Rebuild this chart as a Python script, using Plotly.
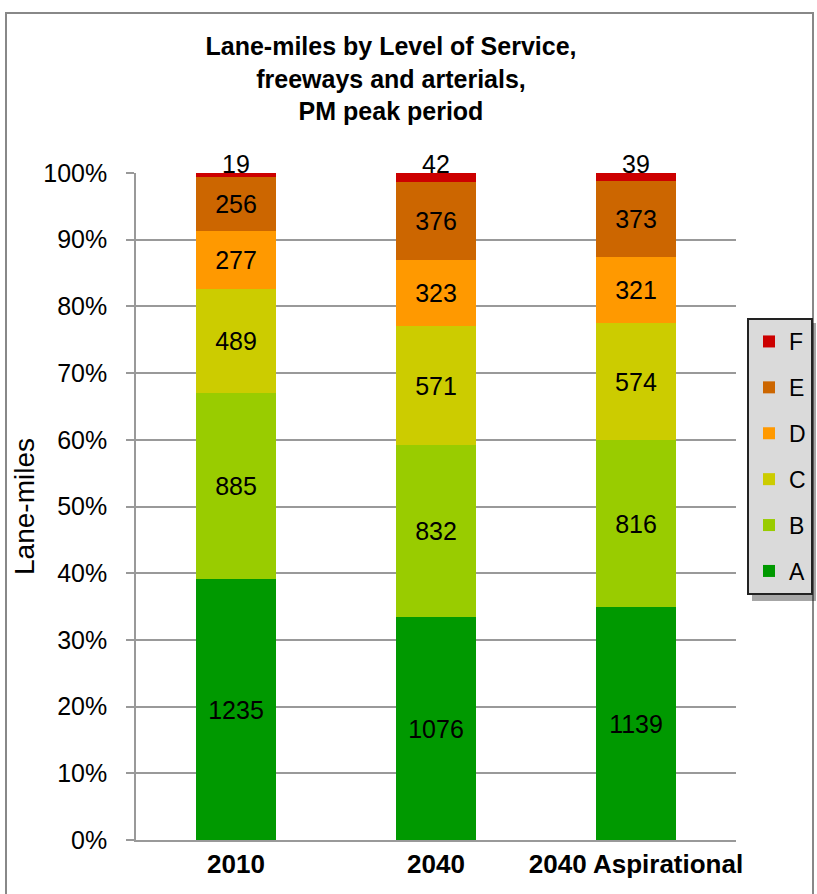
import plotly.graph_objects as go

categories = ["2010", "2040", "2040 Aspirational"]
levels = ["A", "B", "C", "D", "E", "F"]
values = {
    "A": [1235, 1076, 1139],
    "B": [885, 832, 816],
    "C": [489, 571, 574],
    "D": [277, 323, 321],
    "E": [256, 376, 373],
    "F": [19, 42, 39],
}
colors = {
    "A": "#009900",
    "B": "#99CC00",
    "C": "#CCCC00",
    "D": "#FF9900",
    "E": "#CC6600",
    "F": "#CC0000",
}

FONT = "Liberation Sans, Arial, sans-serif"

fig = go.Figure()
for i, lv in enumerate(levels):
    fig.add_trace(go.Bar(
        x=categories, y=values[lv], name=lv,
        marker=dict(color=colors[lv], line=dict(width=0)),
        text=None if lv == "F" else [str(v) for v in values[lv]],
        textposition="inside",
        insidetextanchor="middle",
        textangle=0,
        textfont=dict(family=FONT, size=25, color="black"),
        legendgroup=lv,
        legendrank=len(levels) - i,
        hoverinfo="x+y+name",
    ))

# labels for the top (F) segment, sitting just above the top of each stack
# (x given as the category index, since the category names look numeric)
for j, cat in enumerate(categories):
    total = sum(values[lv][j] for lv in levels)
    fig.add_annotation(
        x=j, y=100 * total / total, xref="x", yref="y",
        text=str(values["F"][j]), showarrow=False,
        yanchor="bottom", yshift=-7,
        font=dict(family=FONT, size=25, color="black"),
    )

W, H = 817, 894
L, R, T, B = 136, 81, 173, 54
pw, ph = W - L - R, H - T - B

def px(x):
    return (x - L) / pw

def py(y):
    return (H - B - y) / ph

fig.update_layout(
    width=W, height=H,
    margin=dict(l=L, r=R, t=T, b=B, autoexpand=False),
    barmode="stack", barnorm="percent", bargap=0.6,
    paper_bgcolor="white", plot_bgcolor="white",
    font=dict(family=FONT, size=25, color="black"),
    title=dict(
        text="<b>Lane-miles by Level of Service,<br>freeways and arterials,<br>PM peak period</b>",
        x=391 / W, xanchor="center", y=1 - 55 / H, yanchor="top",
        font=dict(family=FONT, size=25, color="black"),
    ),
    uniformtext=dict(minsize=10, mode="show"),
    legend=dict(
        x=px(747), xanchor="left", y=py(318), yanchor="top",
        traceorder="grouped", tracegroupgap=13,
        bgcolor="#dadada", bordercolor="#222222", borderwidth=2,
        font=dict(family=FONT, size=23, color="black"),
        itemwidth=30,
    ),
    showlegend=True,
)

fig.update_yaxes(
    range=[0, 100], dtick=10, ticksuffix="%",
    showgrid=True, gridcolor="#999999", gridwidth=1.5,
    showline=True, linecolor="#999999", linewidth=1.5,
    ticks="outside", ticklen=8, tickcolor="#999999", tickwidth=1.5,
    ticklabelstandoff=14,
    tickfont=dict(family=FONT, size=25, color="black"),
    title=dict(text="Lane-miles", font=dict(family=FONT, size=28, color="black"), standoff=0),
    zeroline=False,
)
fig.update_xaxes(
    type="category",
    showline=True, linecolor="#999999", linewidth=1.5,
    ticks="", tickfont=dict(family=FONT, size=26, color="black"),
    tickprefix="<b>", ticksuffix="</b>",
)

# outer chart border
fig.add_shape(type="rect", xref="paper", yref="paper",
              x0=px(6), x1=px(813), y0=py(905), y1=py(13),
              line=dict(color="#888888", width=2), fillcolor="rgba(0,0,0,0)", layer="below")

# soft drop shadow behind the legend box
fig.add_shape(type="rect", xref="paper", yref="paper",
              x0=px(752), x1=px(816), y0=py(601), y1=py(323),
              line=dict(width=0), fillcolor="rgba(0,0,0,0.35)", layer="above")

fig.write_html("out.html")
